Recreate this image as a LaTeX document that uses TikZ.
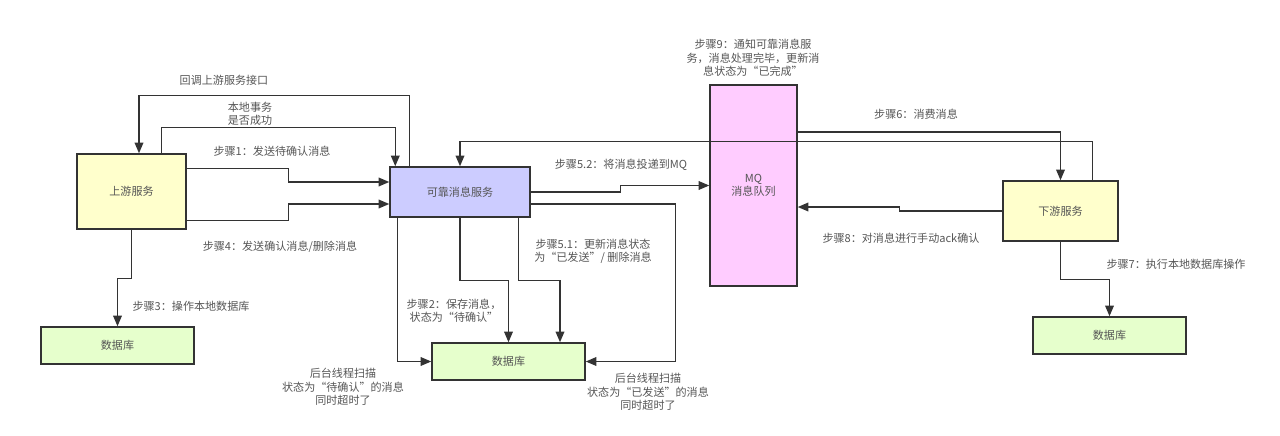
\documentclass[tikz,border=0pt]{standalone}
\usepackage{fontspec}
\newfontfamily\cjk{Noto Sans CJK SC}
\usetikzlibrary{arrows.meta}
\usetikzlibrary{calc}
\definecolor{lineGray}{HTML}{333333}
\definecolor{txtGray}{HTML}{555555}
\definecolor{svcYellow}{HTML}{FFFFCC}
\definecolor{svcBlue}{HTML}{CCCCFF}
\definecolor{mqPink}{HTML}{FFCCFF}
\definecolor{dbGreen}{HTML}{E6FFCC}
\tikzset{
  box/.style={draw=lineGray,line width=1.1pt,text=txtGray,font=\cjk\fontsize{8.3}{10}\selectfont,align=center,inner sep=0pt},
  conn/.style={draw=lineGray,line width=1.1pt,-{Triangle[length=8pt,width=6.5pt]}},
  lbl/.style={text=txtGray,font=\cjk\fontsize{8.3}{10}\selectfont,align=center,inner sep=0pt}
}

\begin{document}
\begin{tikzpicture}[x=0.75pt,y=0.75pt,yscale=-1,xscale=1]
\useasboundingbox (0,0) rectangle (1280,435);

%Boxes
\node[box,fill=svcYellow,minimum width=81.75pt,minimum height=56.25pt] (up) at (131.5,191.5) {上游服务};
\node[box,fill=svcBlue,minimum width=105pt,minimum height=37.5pt] (rel) at (460,192) {可靠消息服务};
\node[box,fill=mqPink,minimum width=65.25pt,minimum height=150.75pt] (mq) at (753.5,185.5) {MQ\\消息队列};
\node[box,fill=svcYellow,minimum width=86.25pt,minimum height=45pt] (down) at (1060.5,211) {下游服务};
\node[box,fill=dbGreen,minimum width=114.75pt,minimum height=27.75pt] (dbL) at (117.5,345.5) {数据库};
\node[box,fill=dbGreen,minimum width=114.75pt,minimum height=27.75pt] (dbM) at (508.5,361.5) {数据库};
\node[box,fill=dbGreen,minimum width=114.75pt,minimum height=27.75pt] (dbR) at (1109.5,335.5) {数据库};

%Connectors
\draw[conn] ($(rel.north west)+(20,0)$) -- ++(0,-71) -| ($(up.north)+(7.5,0)$);
\draw[conn] ($(up.north west)+(85,0)$) -- ++(0,-26) -| ($(rel.north west)+(6,0)$);
\draw[conn] ($(up.north east)+(0,15)$) -- ++(102,0) |- ($(rel.west)+(0,-10)$);
\draw[conn] ($(up.south east)+(0,-9)$) -- ++(102,0) |- ($(rel.west)+(0,12)$);
\draw[conn] (up.south) -- ++(0,49) -| (dbL.north);
\draw[conn] (rel.south) -- ++(0,63) -| (dbM.north);
\draw[conn] ($(rel.south west)+(129,0)$) -- ++(0,63) -| ($(dbM.north)+(51.5,0)$);
\draw[conn] ($(rel.south west)+(8,0)$) |- (dbM.west);
\draw[conn] ($(rel.east)+(0,12)$) -- ++(145,0) |- (dbM.east);
\draw[conn] (rel.east) -- ++(90,0) |- (mq.west);
\draw[conn] ($(down.north west)+(90,0)$) -- ++(0,-39) -| (rel.north);
\draw[conn] ($(mq.east)+(0,-53.5)$) -| (down.north);
\draw[conn] (down.west) -- ++(-103,0) |- ($(mq.east)+(0,21.5)$);
\draw[conn] (down.south) -- ++(0,38) -| (dbR.north);

% Text Nodes
\node[lbl] (cbLbl) at (224,80) {回调上游服务接口};
\node[lbl] (txLbl) at (250,114) {本地事务\\是否成功};
\node[lbl] (s1Lbl) at (272,151) {步骤1：发送待确认消息};
\node[lbl] (s4Lbl) at (280,247) {步骤4：发送确认消息/删除消息};
\node[lbl] (s3Lbl) at (191,306) {步骤3：操作本地数据库};
\node[lbl] (s2Lbl) at (454,311) {步骤2：保存消息，\\状态为“待确认”};
\node[lbl] (s51Lbl) at (593,251) {步骤5.1：更新消息状态\\为“已发送”/ 删除消息};
\node[lbl] (scanPLbl) at (343,387) {后台线程扫描\\状态为“待确认”的消息\\同时超时了};
\node[lbl] (scanSLbl) at (648,392) {后台线程扫描\\状态为“已发送”的消息\\同时超时了};
\node[lbl] (s52Lbl) at (621,165) {步骤5.2：将消息投递到MQ};
\node[lbl] (s9Lbl) at (753,58) {步骤9：通知可靠消息服\\务，消息处理完毕，更新消\\息状态为“已完成”};
\node[lbl] (s6Lbl) at (916,114) {步骤6：消费消息};
\node[lbl] (s8Lbl) at (901,238) {步骤8：对消息进行手动ack确认};
\node[lbl] (s7Lbl) at (1176,264) {步骤7：执行本地数据库操作};

\end{tikzpicture}
\end{document}
